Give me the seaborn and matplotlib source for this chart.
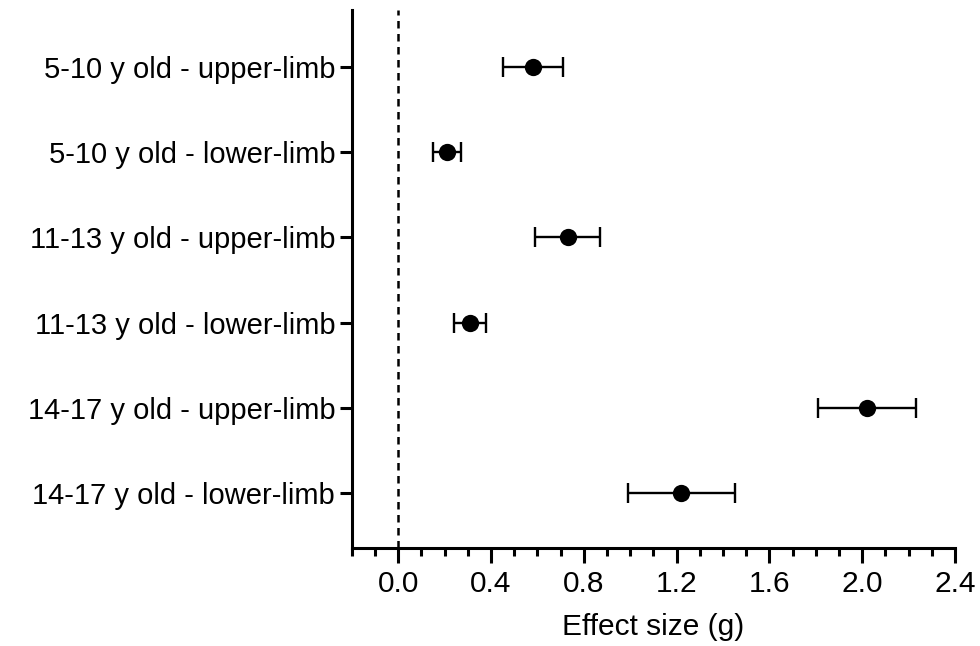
import seaborn as sns
import matplotlib.pyplot as plt
from matplotlib.ticker import MultipleLocator
import pandas as pd
import numpy as np

groups = ['5-10 y old - upper-limb', '5-10 y old - lower-limb',
          '11-13 y old - upper-limb', '11-13 y old - lower-limb',
          '14-17 y old - upper-limb', '14-17 y old - lower-limb']
effect = [0.58, 0.21, 0.73, 0.31, 2.02, 1.22]
ci_low = [0.45, 0.15, 0.59, 0.24, 1.81, 0.99]
ci_high = [0.71, 0.27, 0.87, 0.38, 2.23, 1.45]

df = pd.DataFrame({'group': groups, 'g': effect, 'lo': ci_low, 'hi': ci_high})

sns.set_style('ticks')
plt.rcParams['font.family'] = ['Liberation Sans', 'DejaVu Sans']
plt.rcParams['text.color'] = 'black'
plt.rcParams['axes.labelcolor'] = 'black'
plt.rcParams['axes.edgecolor'] = 'black'
plt.rcParams['xtick.color'] = 'black'
plt.rcParams['ytick.color'] = 'black'

fig = plt.figure(figsize=(9.8, 6.46), dpi=100)
ax = fig.add_axes([0.359, 0.152, 0.6155, 0.8325])

# zero line
ax.axvline(0, color='black', lw=1.8, ls=(0, (3, 2.2)), zorder=1)

# confidence intervals
xerr = np.array([df.g - df.lo, df.hi - df.g])
ax.errorbar(df.g, df.group, xerr=xerr, fmt='none', ecolor='black',
            elinewidth=1.7, capsize=7, capthick=1.7, zorder=2)

# point estimates
sns.scatterplot(data=df, x='g', y='group', ax=ax, color='black', s=155,
                edgecolor='black', linewidth=0, zorder=3)

ax.set_xlim(-0.2, 2.4)
ax.set_ylim(5.645, -0.67)
ax.xaxis.set_minor_locator(MultipleLocator(0.1))
ax.set_xticks(np.arange(0, 2.41, 0.4))
ax.set_xticklabels([f'{v:.1f}' for v in np.arange(0, 2.41, 0.4)])

ax.set_xlabel('Effect size (g)', fontsize=21.5, labelpad=11)
ax.set_ylabel('')

for side in ['top', 'right']:
    ax.spines[side].set_visible(False)
for side in ['left', 'bottom']:
    ax.spines[side].set_linewidth(2.2)
    ax.spines[side].set_color('black')

ax.tick_params(axis='both', which='major', width=2.2, colors='black')
ax.tick_params(axis='x', which='major', labelsize=21.5, length=11, pad=5)
ax.tick_params(axis='x', which='minor', length=5.5, width=2.2, colors='black')
ax.tick_params(axis='y', which='major', labelsize=21, length=9, pad=3)

fig.savefig('out.png', dpi=100)
